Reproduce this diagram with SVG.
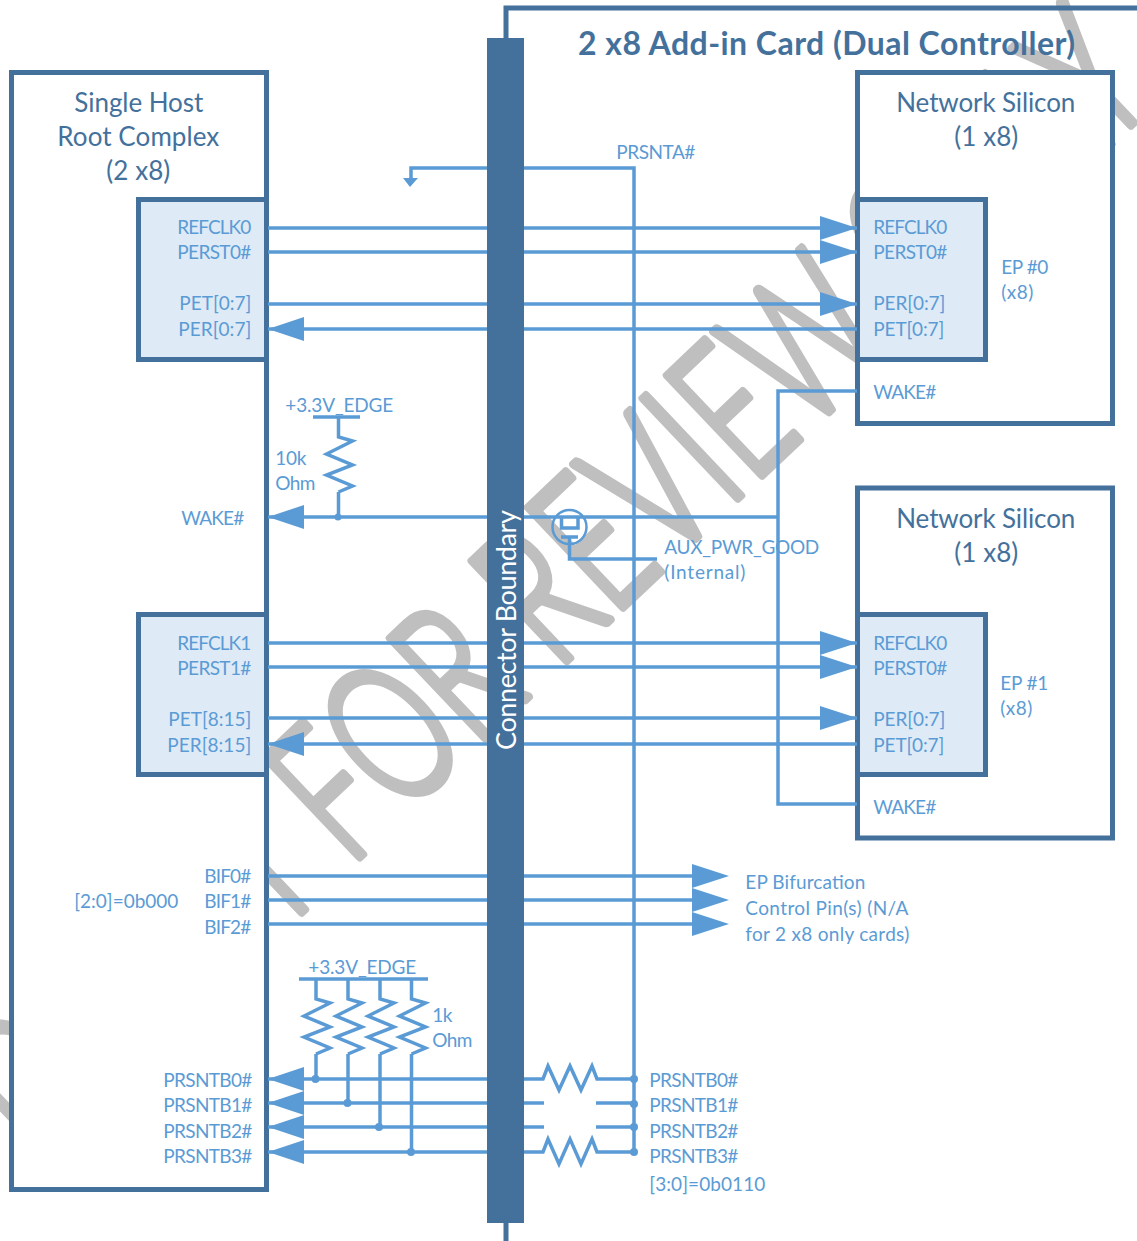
<svg xmlns="http://www.w3.org/2000/svg" width="1137" height="1241" viewBox="0 0 1137 1241">
<style>
text{font-family:Lato,"Open Sans","Liberation Sans",sans-serif}
.l{font-size:19px;fill:#5B9BD5;transform:translate(-.7px,0)}
.t{font-size:26px;fill:#44719C;transform:translate(-.7px,0)}
.b{fill:#fff;stroke:#44719C;stroke-width:5}
.i{fill:#DEEAF6;stroke:#44719C;stroke-width:5}
.w{font-size:194px;font-weight:300;fill:#BFBFBF;stroke:#BFBFBF;stroke-width:9;stroke-linejoin:round}
.c{fill:none;stroke:#5B9BD5;stroke-width:3.5}
.f{fill:#5B9BD5;stroke:none}
</style>
<defs>
<path id="ar" class="f" d="M0 0L-37 -12V12Z"/>
<path id="al" class="f" d="M0 0L36 -12V12Z"/>
<path id="rz" class="c" d="M0 0V20L14 24L-12 37L14 48L-12 58L14 69L0 75"/>
</defs>
<g id="watermark" transform="translate(349,867) rotate(-43.5) scale(.66,1)">
<text class="w" x="-40" text-anchor="end">DRAFT</text>
<text class="w" x="0">FOR REVIEW ONLY</text>
</g>
<g id="card"><path d="M506 38V8H1137M506 1222V1241" fill="none" stroke="#44719C" stroke-width="5"/></g>
<g id="host">
<rect class="b" x="11.5" y="72.5" width="255" height="1117"/>
<text class="t" x="75" y="112" textLength="129">Single Host</text>
<text class="t" x="58" y="146" textLength="162">Root Complex</text>
<text class="t" x="107" y="180" textLength="64">(2 x8)</text>
<text class="l" x="75" y="908" textLength="104">[2:0]=0b000</text>
<text class="l" x="205" y="883" textLength="47">BIF0#</text>
<text class="l" x="205" y="908" textLength="47">BIF1#</text>
<text class="l" x="205" y="934" textLength="47">BIF2#</text>
<text class="l" x="182" y="525" textLength="63">WAKE#</text>
<text class="l" x="164" y="1087" textLength="89">PRSNTB0#</text>
<text class="l" x="164" y="1112" textLength="89">PRSNTB1#</text>
<text class="l" x="164" y="1138" textLength="89">PRSNTB2#</text>
<text class="l" x="164" y="1163" textLength="89">PRSNTB3#</text>
</g>
<g id="host-port0">
<rect class="i" x="138.5" y="199.5" width="128" height="160"/>
<text class="l" x="178" y="234" textLength="74">REFCLK0</text>
<text class="l" x="178" y="259" textLength="74">PERST0#</text>
<text class="l" x="180" y="310" textLength="72">PET[0:7]</text>
<text class="l" x="179" y="336" textLength="73">PER[0:7]</text>
</g>
<g id="host-port1">
<rect class="i" x="138.5" y="614.5" width="128" height="160"/>
<text class="l" x="178" y="650" textLength="74">REFCLK1</text>
<text class="l" x="178" y="675" textLength="74">PERST1#</text>
<text class="l" x="169" y="726" textLength="83">PET[8:15]</text>
<text class="l" x="168" y="752" textLength="84">PER[8:15]</text>
</g>
<g id="silicon0">
<rect class="b" x="857.5" y="72.5" width="255" height="351"/>
<text class="t" x="897" y="112" textLength="179">Network Silicon</text>
<text class="t" x="955" y="146" textLength="64">(1 x8)</text>
<rect class="i" x="857.5" y="199.5" width="128" height="160"/>
<text class="l" x="874" y="234" textLength="74">REFCLK0</text>
<text class="l" x="874" y="259" textLength="74">PERST0#</text>
<text class="l" x="874" y="310" textLength="72">PER[0:7]</text>
<text class="l" x="874" y="336" textLength="71">PET[0:7]</text>
<text class="l" x="1002" y="274" textLength="47">EP #0</text>
<text class="l" x="1002" y="299" textLength="32">(x8)</text>
<text class="l" x="874" y="399" textLength="63">WAKE#</text>
</g>
<g id="silicon1">
<rect class="b" x="857.5" y="488" width="255" height="350"/>
<text class="t" x="897" y="528" textLength="179">Network Silicon</text>
<text class="t" x="955" y="562" textLength="64">(1 x8)</text>
<rect class="i" x="857.5" y="614.5" width="128" height="160"/>
<text class="l" x="874" y="650" textLength="74">REFCLK0</text>
<text class="l" x="874" y="675" textLength="74">PERST0#</text>
<text class="l" x="874" y="726" textLength="72">PER[0:7]</text>
<text class="l" x="874" y="752" textLength="71">PET[0:7]</text>
<text class="l" x="1001" y="690" textLength="48">EP #1</text>
<text class="l" x="1001" y="715" textLength="32">(x8)</text>
<text class="l" x="874" y="814" textLength="63">WAKE#</text>
</g>
<g id="connectors">
<path class="c" d="M268 228H857M268 252H857M268 304H857M268 329H857M268 643H857M268 667H857M268 718H857M268 744H857"/>
<path class="c" d="M268 876H700M268 900H700M268 924H700"/>
<path class="c" d="M268 517H778M857 391H778V804H857"/>
<path class="c" d="M411 178V168H634V1152"/>
<path class="f" d="M403 178H418L410 187Z"/>
<path class="c" d="M313 417H360M299 979H428"/>
<use href="#rz" x="338.500" y="417"/><path class="c" d="M338.500 492V517"/>
<use href="#rz" x="316" y="979"/><path class="c" d="M316 1054V1079"/>
<use href="#rz" x="348" y="979"/><path class="c" d="M348 1054V1103"/>
<use href="#rz" x="380" y="979"/><path class="c" d="M380 1054V1127"/>
<use href="#rz" x="411.500" y="979"/><path class="c" d="M411.500 1054V1152"/>
<path class="c" d="M268 1079H543L548 1066L559 1090L570 1066L581 1090L592 1066L597 1079H634"/>
<path class="c" d="M268 1103H544M596 1103H634M268 1127H544M596 1127H634"/>
<path class="c" d="M268 1152H543L548 1139L559 1164L570 1139L581 1164L592 1139L597 1152H634"/>
<g class="f">
<circle cx="338" cy="517" r="3.500"/>
<circle cx="315.500" cy="1079" r="4"/><circle cx="347.500" cy="1103" r="4"/><circle cx="379" cy="1127" r="4"/><circle cx="411" cy="1152" r="4"/>
<circle cx="634" cy="1079" r="4"/><circle cx="634" cy="1104" r="4"/><circle cx="634" cy="1127" r="4"/><circle cx="634" cy="1152" r="4"/>
</g>
<use href="#ar" x="857" y="228"/><use href="#ar" x="857" y="252"/><use href="#ar" x="857" y="304"/>
<use href="#ar" x="857" y="643"/><use href="#ar" x="857" y="667"/><use href="#ar" x="857" y="718"/>
<use href="#ar" x="729" y="876"/><use href="#ar" x="729" y="900"/><use href="#ar" x="729" y="924"/>
<use href="#al" x="268" y="329"/><use href="#al" x="268" y="744"/><use href="#al" x="268" y="517"/>
<use href="#al" x="268" y="1079"/><use href="#al" x="268" y="1103"/><use href="#al" x="268" y="1127"/><use href="#al" x="268" y="1152"/>
</g>
<g id="transistor">
<circle cx="569.500" cy="527" r="17" fill="none" stroke="#5B9BD5" stroke-width="2.500"/>
<path class="c" d="M561.500 517V528H578V517M561 537H578M569.500 537V559H657"/>
</g>
<g id="connector-bar">
<rect x="487" y="38" width="37" height="1185" fill="#44719C"/>
<text transform="translate(516,750) rotate(-90)" font-size="27" fill="#fff" textLength="240">Connector Boundary</text>
</g>
<g id="labels">
<text x="578" y="55" font-size="32" font-weight="700" fill="#44719C" textLength="497">2 x8 Add-in Card (Dual Controller)</text>
<text class="l" x="617" y="159" textLength="79">PRSNTA#</text>
<text class="l" x="286" y="412" textLength="108">+3.3V_EDGE</text>
<text class="l" x="276" y="465" textLength="31">10k</text>
<text class="l" x="276" y="490" textLength="40">Ohm</text>
<text class="l" x="665" y="554" textLength="155">AUX_PWR_GOOD</text>
<text class="l" x="665" y="579" textLength="81">(Internal)</text>
<text class="l" x="746" y="889" textLength="120">EP Bifurcation</text>
<text class="l" x="746" y="915" textLength="163">Control Pin(s) (N/A</text>
<text class="l" x="746" y="941" textLength="164">for 2 x8 only cards)</text>
<text class="l" x="309" y="974" textLength="108">+3.3V_EDGE</text>
<text class="l" x="433" y="1022" textLength="20">1k</text>
<text class="l" x="433" y="1047" textLength="40">Ohm</text>
<text class="l" x="650" y="1087" textLength="89">PRSNTB0#</text>
<text class="l" x="650" y="1112" textLength="89">PRSNTB1#</text>
<text class="l" x="650" y="1138" textLength="89">PRSNTB2#</text>
<text class="l" x="650" y="1163" textLength="89">PRSNTB3#</text>
<text class="l" x="650" y="1191" textLength="116">[3:0]=0b0110</text>
</g>
</svg>
